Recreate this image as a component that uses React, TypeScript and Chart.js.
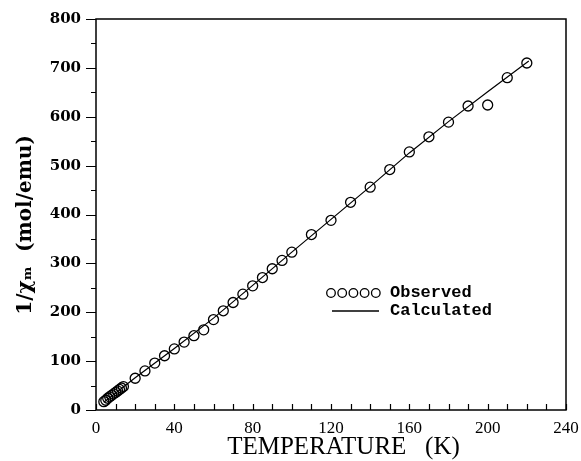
import React, { useEffect, useRef } from 'react';
import { Chart, registerables } from 'chart.js';

Chart.register(...registerables);

// Observed data: temperature (K) and 1/chi_m (mol/emu)
const obsT = [4, 5, 6, 7, 8, 9, 10, 11, 12, 13, 14, 20, 25, 30, 35, 40, 45, 50, 55, 60, 65, 70, 75, 80, 85, 90, 95, 100, 110, 120, 130, 140, 150, 160, 170, 180, 190, 200, 210, 220];
const obsY = [17, 20, 24, 27, 30, 33, 36, 39, 42, 45, 48, 65, 80, 96, 111, 125, 139, 152, 164, 185, 203, 220, 237, 254, 271, 289, 306, 323, 359, 388, 425, 456, 492, 528, 559, 589, 622, 624, 680, 710];

// Calculated curve
const calcT = [4, 20, 40, 60, 80, 100, 120, 140, 160, 180, 200, 221];
const calcY = [16, 66, 126, 188, 255, 323, 390, 457, 526, 590, 651, 714];

const xMin = 0;
const xMax = 240;
const xMajorStep = 40;
const xMinorStep = 10;
const yMin = 0;
const yMax = 800;
const yMajorStep = 100;
const yMinorStep = 50;

const xTitle = '    TEMPERATURE   (K)';
const yTitle = '1/\u03C7\u2098  (mol/emu)   ';
const legendObserved = 'Observed';
const legendCalculated = 'Calculated';

const framePlugin = {
  id: 'framePlugin',
  afterDraw(chart: any) {
    const { ctx, chartArea: a, scales } = chart;
    const xs = scales.x;
    const ys = scales.y;
    ctx.save();
    ctx.strokeStyle = '#000';
    ctx.lineWidth = 1.5;
    ctx.strokeRect(a.left, a.top, a.right - a.left, a.bottom - a.top);

    ctx.lineWidth = 1.2;
    ctx.beginPath();
    for (let v = xMin; v <= xMax; v += xMinorStep) {
      const p = Math.round(xs.getPixelForValue(v)) + 0.5;
      ctx.moveTo(p, a.bottom);
      ctx.lineTo(p, a.bottom - 6);
    }
    for (let v = yMin; v <= yMax; v += yMinorStep) {
      const p = Math.round(ys.getPixelForValue(v)) + 0.5;
      const len = v % yMajorStep === 0 ? 10 : 5;
      ctx.moveTo(a.left - len, p);
      ctx.lineTo(a.left, p);
    }
    ctx.stroke();

    // Legend
    const lx = a.left + 235;
    const ly1 = a.top + 274;
    const ly2 = a.top + 292;
    ctx.lineWidth = 1.3;
    for (let i = 0; i < 5; i++) {
      ctx.beginPath();
      ctx.arc(lx + i * 11.2, ly1, 4.3, 0, Math.PI * 2);
      ctx.stroke();
    }
    ctx.lineWidth = 1.5;
    ctx.beginPath();
    ctx.moveTo(lx + 1, ly2);
    ctx.lineTo(lx + 48, ly2);
    ctx.stroke();
    ctx.fillStyle = '#000';
    ctx.font = 'bold 17px "Liberation Mono", "DejaVu Sans Mono", monospace';
    ctx.textBaseline = 'middle';
    ctx.textAlign = 'left';
    ctx.fillText(legendObserved, lx + 59, ly1);
    ctx.fillText(legendCalculated, lx + 59, ly2);
    ctx.restore();
  },
};

export default function App() {
  const ref = useRef<HTMLCanvasElement>(null);

  useEffect(() => {
    document.body.style.margin = '0';
    document.body.style.overflow = 'hidden';
    const canvas = ref.current;
    if (!canvas) return;
    const chart = new Chart(canvas, {
      type: 'scatter',
      data: {
        datasets: [
          {
            label: legendObserved,
            data: obsT.map((t, i) => ({ x: t, y: obsY[i] })),
            showLine: false,
            pointStyle: 'circle',
            pointRadius: 5,
            pointBorderWidth: 1.3,
            pointBorderColor: '#000',
            pointBackgroundColor: 'rgba(0,0,0,0)',
          },
          {
            label: legendCalculated,
            data: calcT.map((t, i) => ({ x: t, y: calcY[i] })),
            showLine: true,
            pointRadius: 0,
            borderColor: '#000',
            borderWidth: 1.2,
            tension: 0,
          },
        ],
      },
      options: {
        responsive: false,
        animation: false,
        devicePixelRatio: 1,
        layout: { padding: { top: 19, right: 15, left: 0, bottom: 0 } },
        plugins: {
          legend: { display: false },
          tooltip: { enabled: false },
        },
        scales: {
          x: {
            type: 'linear',
            min: xMin,
            max: xMax,
            grid: { display: false, drawTicks: false },
            border: { display: false },
            ticks: {
              stepSize: xMajorStep,
              autoSkip: false,
              maxRotation: 0,
              color: '#000',
              padding: 8,
              font: { family: '"Liberation Serif", "Times New Roman", serif', size: 17 },
            },
            title: {
              display: true,
              text: xTitle,
              color: '#000',
              padding: { top: 0, bottom: 1 },
              font: { family: '"Liberation Serif", "Times New Roman", serif', size: 25, lineHeight: 1 },
            },
            afterFit: (s: any) => {
              s.height = 51;
              s.paddingLeft = 0;
              s.paddingRight = 0;
            },
          },
          y: {
            type: 'linear',
            min: yMin,
            max: yMax,
            grid: { display: false, drawTicks: false },
            border: { display: false },
            ticks: {
              stepSize: yMajorStep,
              color: '#000',
              padding: 15,
              font: { family: '"DejaVu Serif", serif', size: 15, weight: 'bold' },
            },
            title: {
              display: true,
              text: yTitle,
              color: '#000',
              padding: { top: 16, bottom: 0 },
              font: { family: '"DejaVu Serif", serif', size: 20, weight: 'bold', lineHeight: 1 },
            },
            afterFit: (s: any) => {
              s.width = 96;
              s.paddingTop = 0;
              s.paddingBottom = 0;
            },
          },
        },
      },
      plugins: [framePlugin],
    });
    return () => chart.destroy();
  }, []);

  return (
    <div style={{ width: 581, height: 461, background: '#fff' }}>
      <canvas ref={ref} width={581} height={461} style={{ display: 'block', width: 581, height: 461 }} />
    </div>
  );
}
